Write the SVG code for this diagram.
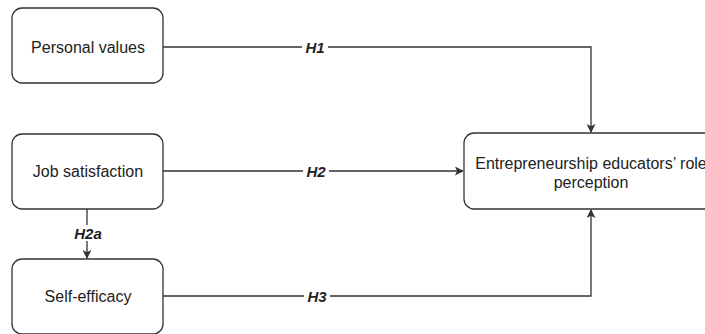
<svg xmlns="http://www.w3.org/2000/svg" width="705" height="334" viewBox="0 0 705 334">
<style>
.box{fill:#fff;stroke:#333;stroke-width:1.3}
.t{font-family:"Liberation Sans",Arial,sans-serif;font-size:16px;fill:#222;text-anchor:middle}
.h{font-family:"Liberation Sans",Arial,sans-serif;font-size:15px;font-weight:bold;font-style:italic;fill:#222;text-anchor:middle}
.c{fill:none;stroke:#333;stroke-width:1.3}
.bg{fill:#fff}
</style>
<defs>
<marker id="a" viewBox="0 0 10 10" refX="9" refY="5" markerWidth="9" markerHeight="9" markerUnits="userSpaceOnUse" orient="auto">
<path d="M0,0 L10,5 L0,10 L2.5,5 Z" fill="#333"/>
</marker>
</defs>
<rect width="705" height="334" fill="#fff"/>
<g id="connectors">
<path class="c" d="M163,47 H591 V132" marker-end="url(#a)"/>
<path class="c" d="M163,171 H463" marker-end="url(#a)"/>
<path class="c" d="M163,296 H591 V210" marker-end="url(#a)"/>
<path class="c" d="M87,209 V258" marker-end="url(#a)"/>
<rect class="bg" x="302" y="39" width="26" height="16"/>
<text class="h" x="315" y="52.5">H1</text>
<rect class="bg" x="303" y="163" width="26" height="16"/>
<text class="h" x="316" y="176.5">H2</text>
<rect class="bg" x="304" y="288" width="26" height="16"/>
<text class="h" x="317" y="301.5">H3</text>
<rect class="bg" x="72" y="225" width="32" height="16"/>
<text class="h" x="88" y="238.5">H2a</text>
</g>
<g id="personal-values">
<rect class="box" x="12" y="8" width="151" height="75" rx="10"/>
<text class="t" x="88" y="52.5">Personal values</text>
</g>
<g id="job-satisfaction">
<rect class="box" x="12" y="134" width="151" height="75" rx="10"/>
<text class="t" x="88" y="177">Job satisfaction</text>
</g>
<g id="self-efficacy">
<rect class="box" x="12" y="259" width="151" height="75" rx="10"/>
<text class="t" x="88" y="302">Self-efficacy</text>
</g>
<g id="role-perception">
<rect class="box" x="464" y="133" width="254" height="76" rx="10"/>
<text class="t" x="591" y="168.5">Entrepreneurship educators’ role</text>
<text class="t" x="591" y="187.5">perception</text>
</g>
</svg>
